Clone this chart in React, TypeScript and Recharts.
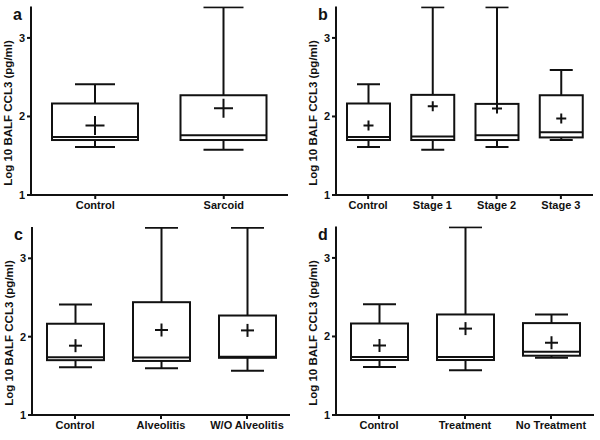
import { ComposedChart, Bar, XAxis, YAxis } from "recharts";

const yDomain = [1, 3.4];
const yTicks = [1, 2, 3];
const yTitle = "Log 10 BALF CCL3 (pg/ml)";

// each group: [min, q1, median, q3, max, mean]
const control = [1.61, 1.7, 1.737, 2.165, 2.41, 1.885];
const sarcoid = [1.576, 1.7, 1.76, 2.27, 3.39, 2.105];
const stage1 = [1.576, 1.7, 1.746, 2.275, 3.39, 2.13];
const stage2 = [1.61, 1.7, 1.76, 2.16, 3.39, 2.1];
const stage3 = [1.7, 1.733, 1.8, 2.27, 2.59, 1.975];
const alveolitis = [1.597, 1.69, 1.735, 2.44, 3.39, 2.085];
const withoutAlveolitis = [1.566, 1.73, 1.745, 2.27, 3.39, 2.08];
const treatment = [1.57, 1.7, 1.74, 2.28, 3.39, 2.1];
const noTreatment = [1.73, 1.755, 1.805, 2.17, 2.28, 1.92];

const panelACategories = ["Control", "Sarcoid"];
const panelAGroups = [control, sarcoid];
const panelBCategories = ["Control", "Stage 1", "Stage 2", "Stage 3"];
const panelBGroups = [control, stage1, stage2, stage3];
const panelCCategories = ["Control", "Alveolitis", "W/O Alveolitis"];
const panelCGroups = [control, alveolitis, withoutAlveolitis];
const panelDCategories = ["Control", "Treatment", "No Treatment"];
const panelDGroups = [control, treatment, noTreatment];

const FONT = "'Liberation Sans', Arial, Helvetica, sans-serif";
const INK = "#111";

function BoxShape(props: any) {
  const { x, y, width, height, payload, capWidth, plusSize } = props;
  const [min, q1, median, q3, max, mean] = payload.stats;
  // linear map along the bar's own [min, max] pixel span
  const toPx = (v: number) => y + ((max - v) / (max - min)) * height;
  const cx = x + width / 2;
  const cap = capWidth / 2;
  const p = plusSize / 2;
  const my = toPx(mean);
  const sw = 2;
  return (
    <g stroke={INK} strokeWidth={sw} fill="none">
      <line x1={cx} x2={cx} y1={toPx(max)} y2={toPx(q3)} />
      <line x1={cx} x2={cx} y1={toPx(q1)} y2={toPx(min)} />
      <line x1={cx - cap} x2={cx + cap} y1={toPx(max)} y2={toPx(max)} />
      <line x1={cx - cap} x2={cx + cap} y1={toPx(min)} y2={toPx(min)} />
      <rect x={x} y={toPx(q3)} width={width} height={toPx(q1) - toPx(q3)} fill="#fff" />
      <line x1={x} x2={x + width} y1={toPx(median)} y2={toPx(median)} />
      <line x1={cx - p} x2={cx + p} y1={my} y2={my} />
      <line x1={cx} x2={cx} y1={my - p} y2={my + p} />
    </g>
  );
}

type PanelProps = {
  categories: string[];
  groups: number[][];
  left: number;
  top: number;
  axisX: number;
  marginRight: number;
  marginTop: number;
  barSize: number;
  capWidth: number;
  plusSize: number;
};

function Panel(props: PanelProps) {
  const { categories, groups, left, top, axisX, marginRight, marginTop, barSize, capWidth, plusSize } = props;
  const data = categories.map((name, i) => ({
    name,
    stats: groups[i],
    range: [groups[i][0], groups[i][4]],
  }));
  const axisStyle = { stroke: INK, strokeWidth: 2 };
  const tickStyle = { fill: INK, fontSize: 11, fontWeight: "bold", fontFamily: FONT };
  return (
    <div style={{ position: "absolute", left, top }}>
      <ComposedChart
        width={300}
        height={220}
        data={data}
        margin={{ top: marginTop, right: marginRight, bottom: 0, left: 0 }}
      >
        <XAxis
          dataKey="name"
          height={25}
          axisLine={axisStyle}
          tickLine={axisStyle}
          tickSize={4}
          tickMargin={2}
          tick={tickStyle}
          interval={0}
        />
        <YAxis
          type="number"
          domain={yDomain}
          ticks={yTicks}
          allowDataOverflow
          width={axisX}
          axisLine={axisStyle}
          tickLine={axisStyle}
          tickSize={4}
          tickMargin={2}
          tick={tickStyle}
        />
        <Bar
          dataKey="range"
          barSize={barSize}
          isAnimationActive={false}
          shape={(p: any) => <BoxShape {...p} capWidth={capWidth} plusSize={plusSize} />}
        />
      </ComposedChart>
    </div>
  );
}

const panels = [
  { letter: "a", categories: panelACategories, groups: panelAGroups, left: 0, top: 0, axisX: 31, marginRight: 12, marginTop: 6.5, barSize: 86, capWidth: 40, plusSize: 19 },
  { letter: "b", categories: panelBCategories, groups: panelBGroups, left: 300, top: 0, axisX: 36, marginRight: 7, marginTop: 6.5, barSize: 43, capWidth: 23, plusSize: 10 },
  { letter: "c", categories: panelCCategories, groups: panelCGroups, left: 0, top: 220, axisX: 32, marginRight: 10, marginTop: 7, barSize: 57, capWidth: 33, plusSize: 13 },
  { letter: "d", categories: panelDCategories, groups: panelDGroups, left: 300, top: 220, axisX: 36, marginRight: 6, marginTop: 6.5, barSize: 57, capWidth: 33, plusSize: 13 },
];

export default function App() {
  return (
    <div style={{ position: "absolute", left: 0, top: 0, width: 600, height: 440, background: "#fff", overflow: "hidden" }}>
      {panels.map((pn) => (
        <Panel key={pn.letter} {...pn} />
      ))}
      <svg width={600} height={440} style={{ position: "absolute", left: 0, top: 0, pointerEvents: "none" }}>
        {panels.map((pn) => (
          <g key={pn.letter} transform={`translate(${pn.left},${pn.top})`} fontFamily={FONT} fontWeight="bold" fill={INK}>
            <text x={pn.axisX - 18} y={20} fontSize={16}>
              {pn.letter}
            </text>
            <text
              x={0}
              y={0}
              fontSize={11.5}
              textAnchor="middle"
              transform={`translate(${pn.axisX - 19},113) rotate(-90)`}
            >
              {yTitle}
            </text>
          </g>
        ))}
      </svg>
    </div>
  );
}
